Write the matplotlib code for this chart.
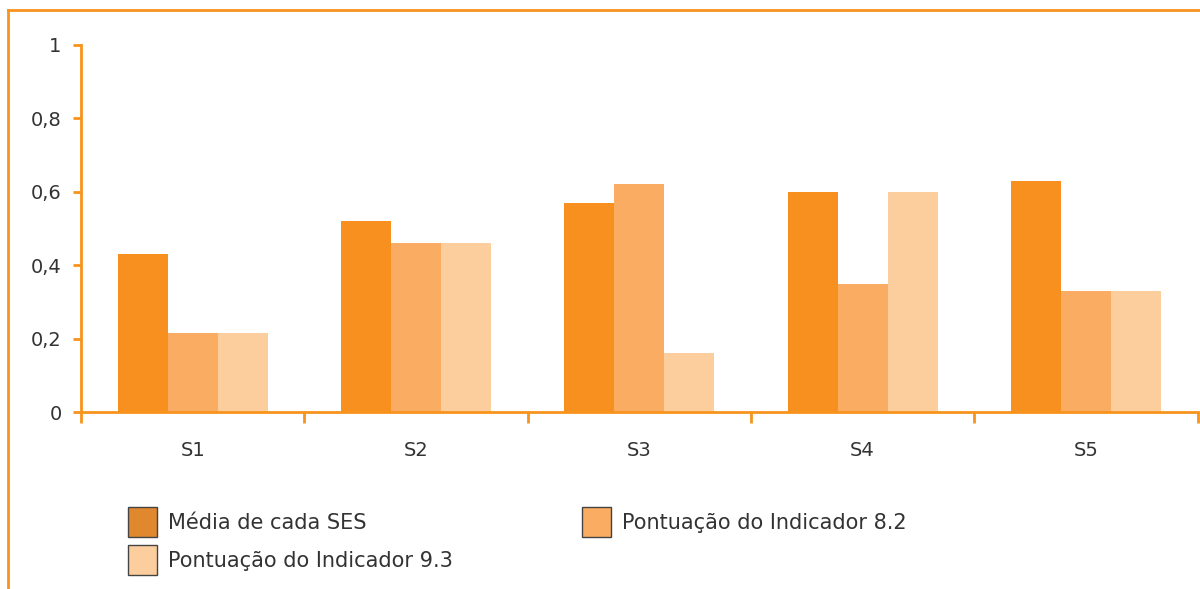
import numpy as np
import matplotlib.pyplot as plt
from matplotlib.lines import Line2D
from matplotlib.patches import Patch

# dados
grupos = ['S1', 'S2', 'S3', 'S4', 'S5']
media_ses = [0.43, 0.52, 0.57, 0.60, 0.63]
indicador_82 = [0.215, 0.46, 0.62, 0.35, 0.33]
indicador_93 = [0.215, 0.46, 0.16, 0.60, 0.33]
series_labels = ['Média de cada SES', 'Pontuação do Indicador 8.2', 'Pontuação do Indicador 9.3']

cores = ['#F7901E', '#F9AC62', '#FCCD9D']
laranja = '#F7941D'
texto = '#333333'

plt.rcParams['font.family'] = ['DejaVu Sans']

fig = plt.figure(figsize=(12, 5.89), dpi=100)
ax = fig.add_axes([0.0675, 0.3005, 0.9305, 0.6231])

x = np.arange(len(grupos))
w = 0.224
for i, vals in enumerate([media_ses, indicador_82, indicador_93]):
    ax.bar(x + (i - 1) * w, vals, width=w, color=cores[i], zorder=2)

ax.set_xlim(-0.5, len(grupos) - 0.5)
ax.set_ylim(0, 1)
ax.set_yticks([0, 0.2, 0.4, 0.6, 0.8, 1])
ax.set_yticklabels(['0', '0,2', '0,4', '0,6', '0,8', '1'])
ax.set_xticks(x)
ax.set_xticklabels(grupos)
ax.set_xticks(np.arange(-0.5, len(grupos)), minor=True)

for s in ['top', 'right']:
    ax.spines[s].set_visible(False)
for s in ['left', 'bottom']:
    ax.spines[s].set_color(laranja)
    ax.spines[s].set_linewidth(2)

ax.tick_params(axis='y', colors=laranja, width=2, length=6, labelcolor=texto,
               labelsize=14, pad=8)
ax.tick_params(axis='x', which='major', length=0, labelcolor=texto,
               labelsize=14, pad=21)
ax.tick_params(axis='x', which='minor', colors=laranja, width=2, length=8)

# moldura laranja
fig.add_artist(Line2D([8 / 1200, 1], [1 - 10 / 589, 1 - 10 / 589],
                      color=laranja, lw=2, transform=fig.transFigure))
fig.add_artist(Line2D([8 / 1200, 8 / 1200], [0, 1 - 10 / 589],
                      color=laranja, lw=2, transform=fig.transFigure))

# legenda
cores_leg = ['#E0882E', '#F9AC62', '#FCCD9D']
handles = [Patch(facecolor=cores_leg[i], edgecolor='#444444', lw=1) for i in range(3)]
ordem = [0, 2, 1]
leg = fig.legend([handles[i] for i in ordem], [series_labels[i] for i in ordem],
                 ncol=2, loc='upper left', bbox_to_anchor=(128 / 1200, 1 - 507 / 589),
                 frameon=False, fontsize=15, handlelength=1.4, handleheight=1.85,
                 handletextpad=0.53, labelspacing=0.38, columnspacing=6.2,
                 borderaxespad=0, borderpad=0)
for t in leg.get_texts():
    t.set_color(texto)

fig.savefig('out.png', dpi=100)
